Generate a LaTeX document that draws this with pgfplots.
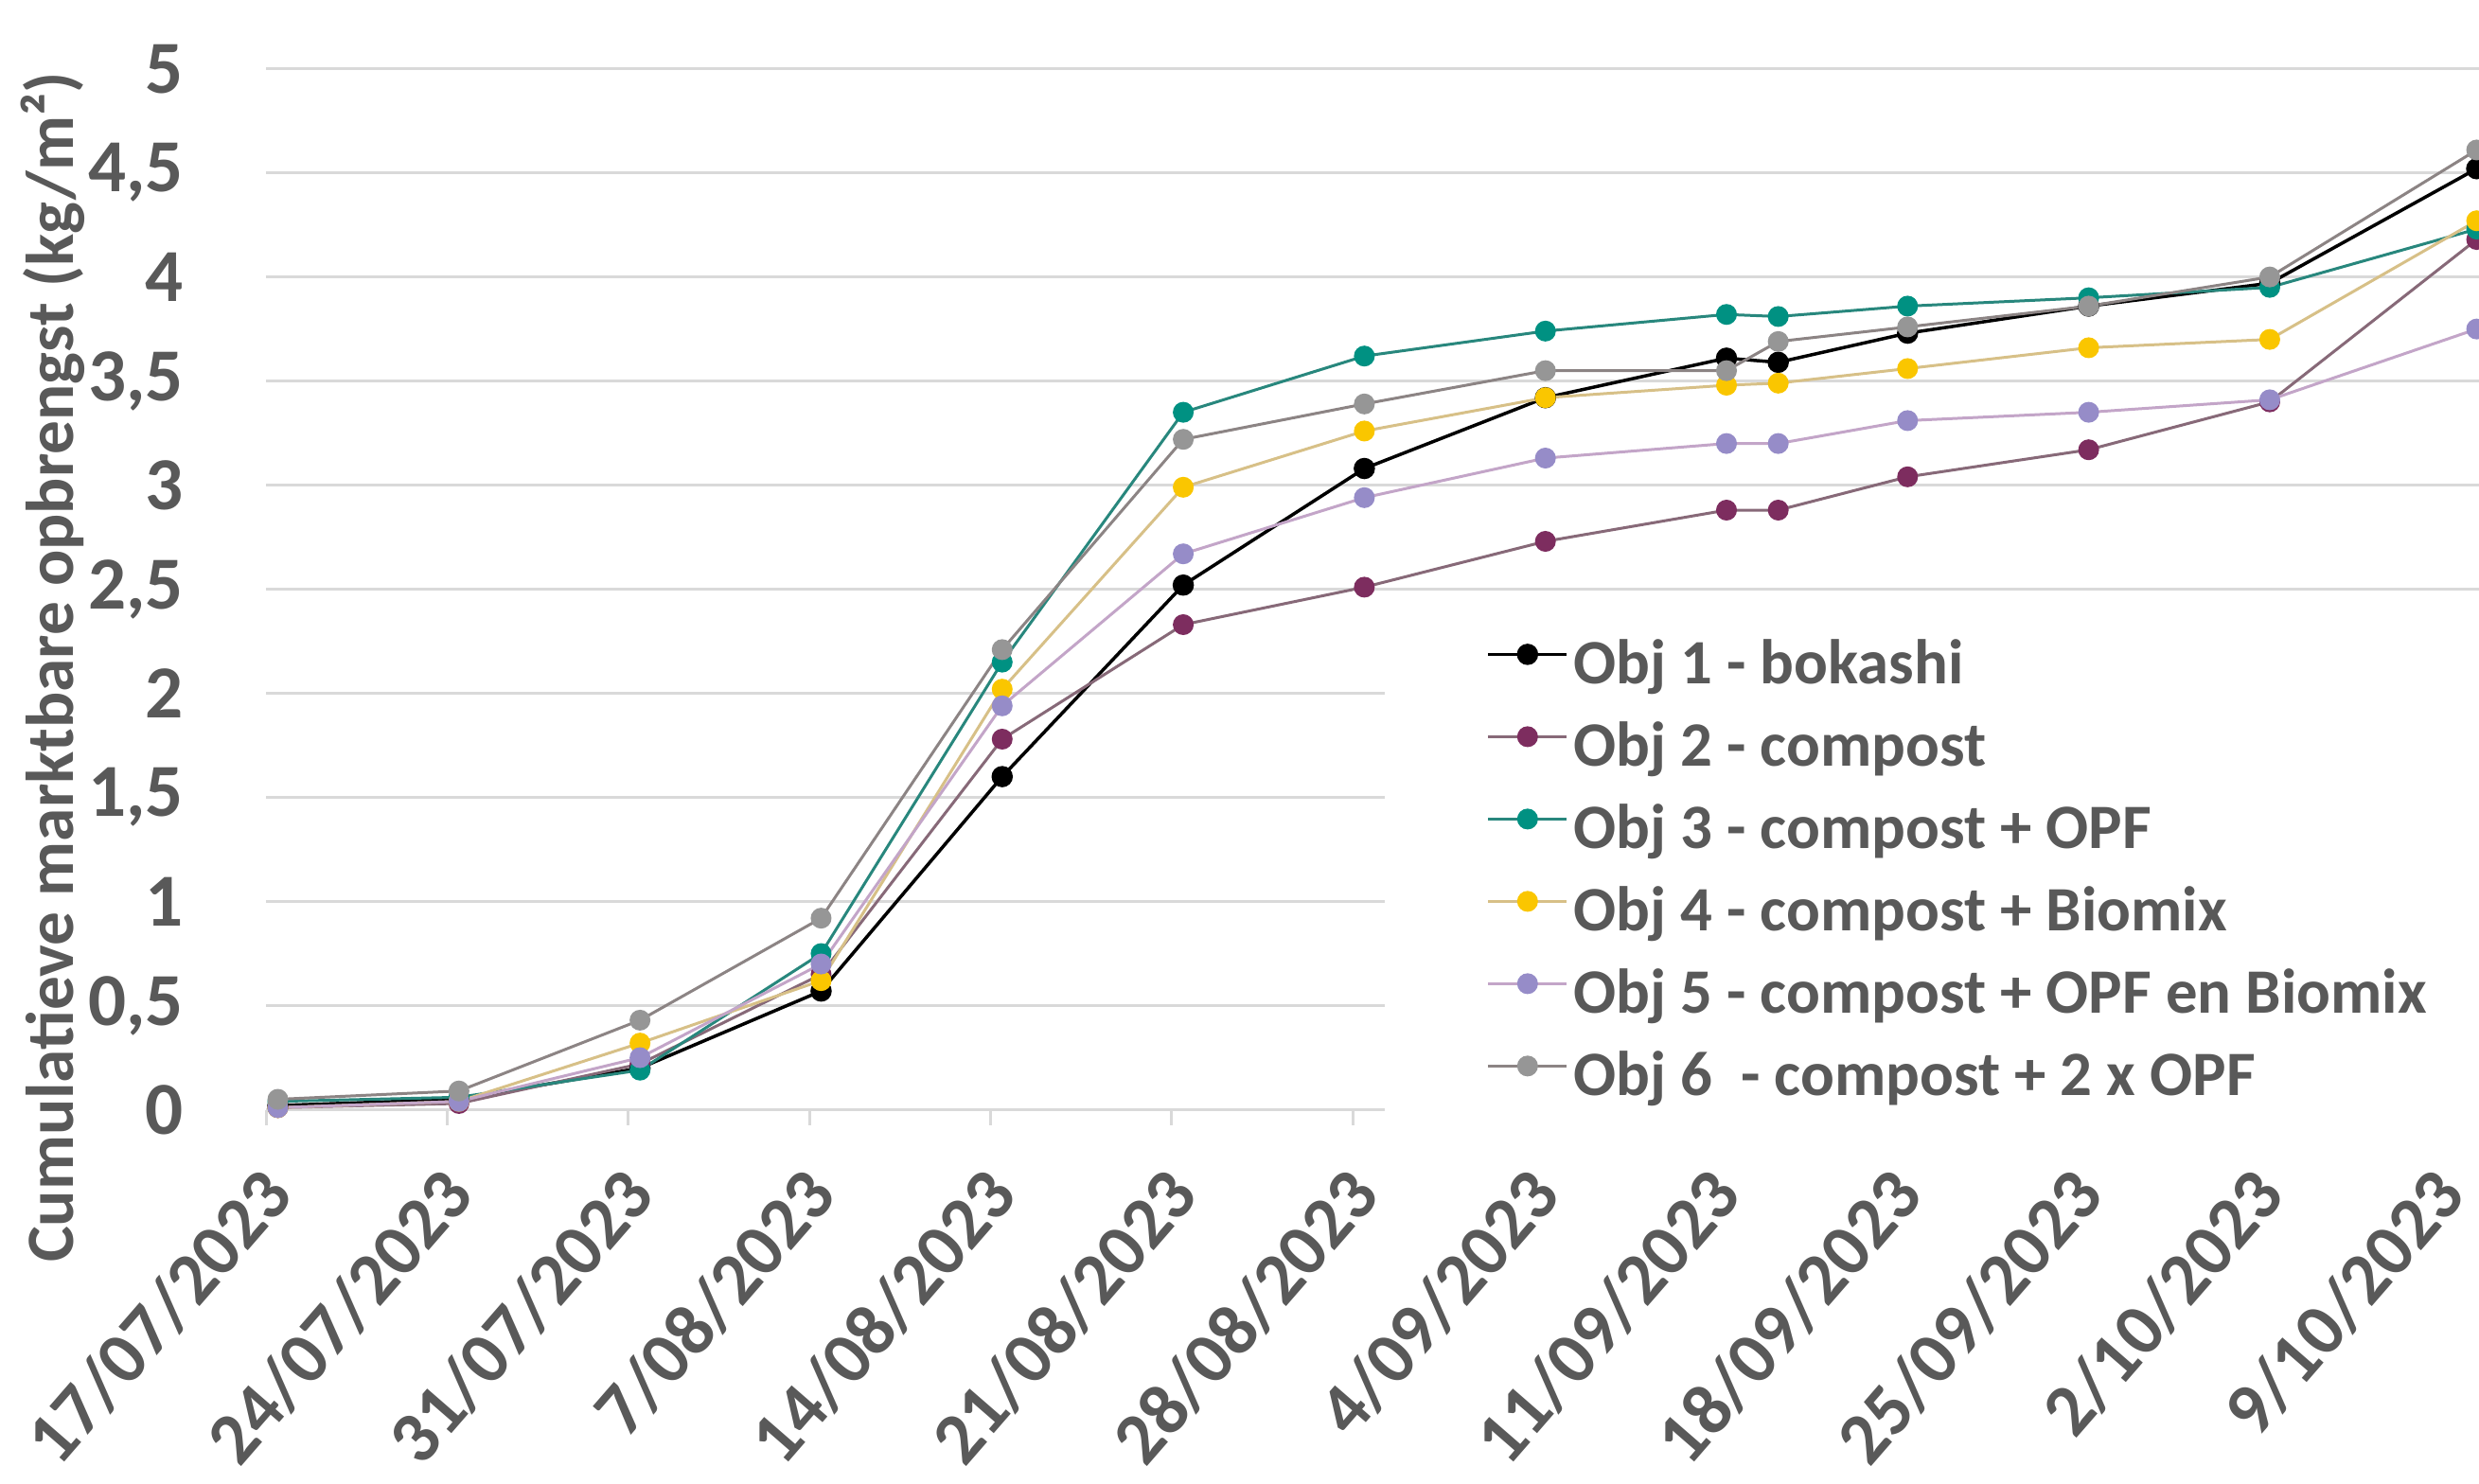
\documentclass[border=0pt]{standalone}
\usepackage{fontspec}
\setmainfont{Carlito}
\usepackage{pgfplots}
\pgfplotsset{compat=1.18}
\usepackage{pgfplotstable}

\definecolor{txt}{RGB}{89,89,89}
\definecolor{gridc}{RGB}{217,217,217}
\definecolor{cBm}{RGB}{125,45,95}
\definecolor{cBl}{RGB}{135,105,120}
\definecolor{cCm}{RGB}{0,145,130}
\definecolor{cCl}{RGB}{40,135,125}
\definecolor{cDm}{RGB}{250,198,0}
\definecolor{cDl}{RGB}{215,192,135}
\definecolor{cEm}{RGB}{150,140,200}
\definecolor{cEl}{RGB}{195,165,200}
\definecolor{cFm}{RGB}{150,150,150}
\definecolor{cFl}{RGB}{140,132,132}

\pgfplotstableread{
day o1 o2 o3 o4 o5 o6
0 0.02 0.01 0.04 0.01 0.01 0.05
7 0.05 0.03 0.06 0.04 0.04 0.09
14 0.20 0.22 0.19 0.32 0.25 0.43
21 0.57 0.65 0.75 0.62 0.70 0.92
28 1.60 1.78 2.15 2.02 1.94 2.21
35 2.52 2.33 3.35 2.99 2.67 3.22
42 3.08 2.51 3.62 3.26 2.94 3.39
49 3.42 2.73 3.74 3.42 3.13 3.55
56 3.61 2.88 3.82 3.48 3.20 3.55
58 3.59 2.88 3.81 3.49 3.20 3.69
63 3.73 3.04 3.86 3.56 3.31 3.76
70 3.86 3.17 3.90 3.66 3.35 3.86
77 3.97 3.40 3.95 3.70 3.41 4.00
85 4.52 4.18 4.23 4.27 3.75 4.61
}\data

\begin{document}
\begin{tikzpicture}
\begin{axis}[
  scale only axis, width=233.8mm, height=110mm,
  xmin=-0.45, xmax=85.09, ymin=0, ymax=5,
  axis x line*=bottom, axis y line*=left,
  x axis line style={draw=gridc, line width=0.3mm},
  y axis line style={draw=none},
  ytick={0,0.5,1,1.5,2,2.5,3,3.5,4,4.5,5},
  yticklabels={0,{0,5},1,{1,5},2,{2,5},3,{3,5},4,{4,5},5},
  ymajorgrids, grid style={draw=gridc, line width=0.3mm},
  y tick style={draw=none},
  major tick length=1.6mm, tick align=outside,
  x tick style={draw=gridc, line width=0.3mm},
  xtick={-0.45,6.55,13.55,20.55,27.55,34.55,41.55,48.55,55.55,62.55,69.55,76.55,83.55},
  xticklabels={17/07/2023,24/07/2023,31/07/2023,7/08/2023,14/08/2023,21/08/2023,28/08/2023,4/09/2023,11/09/2023,18/09/2023,25/09/2023,2/10/2023,9/10/2023},
  xticklabel style={font=\fontsize{22}{22}\selectfont\bfseries, text=txt, inner sep=0pt, xshift=1.2mm, yshift=-5.9mm, rotate=49, anchor=east},
  yticklabel style={font=\fontsize{22.5}{22.5}\selectfont\bfseries, text=txt, inner sep=0pt, xshift=-7.1mm, anchor=east},
  ylabel={Cumulatieve marktbare opbrengst (kg/m²)},
  every axis y label/.style={at={(rel axis cs:0,0.425)}, xshift=-22.5mm, rotate=90, anchor=center, font=\fontsize{20.3}{20.3}\selectfont\bfseries, text=txt},
  legend style={at={(axis cs:42.75,2.32)}, anchor=north west, draw=none, fill=white,
    font=\fontsize{19}{19}\selectfont\bfseries, text=txt,
    inner xsep=10.8mm, inner ysep=0.6mm, row sep=0pt, column sep=0.5mm,
    nodes={inner sep=0pt, text height=5.4mm, text depth=3.3mm, anchor=west}},
  legend cell align=left,
  legend image code/.code={\draw[mark repeat=2,mark phase=2] plot coordinates {(0mm,2.1mm) (4.15mm,2.1mm) (8.3mm,2.1mm)};},
]
\addplot[color=black, line width=0.35mm, mark=*, mark size=2.7pt, mark options={solid, draw=black, fill=black}] table[x=day,y=o1]{\data};
\addlegendentry{Obj 1 - bokashi}
\addplot[color=cBl, line width=0.3mm, mark=*, mark size=2.7pt, mark options={solid, draw=cBm, fill=cBm}] table[x=day,y=o2]{\data};
\addlegendentry{Obj 2 - compost}
\addplot[color=cCl, line width=0.3mm, mark=*, mark size=2.7pt, mark options={solid, draw=cCm, fill=cCm}] table[x=day,y=o3]{\data};
\addlegendentry{Obj 3 - compost + OPF}
\addplot[color=cDl, line width=0.3mm, mark=*, mark size=2.7pt, mark options={solid, draw=cDm, fill=cDm}] table[x=day,y=o4]{\data};
\addlegendentry{Obj 4 - compost + Biomix}
\addplot[color=cEl, line width=0.3mm, mark=*, mark size=2.7pt, mark options={solid, draw=cEm, fill=cEm}] table[x=day,y=o5]{\data};
\addlegendentry{Obj 5 - compost + OPF en Biomix}
\addplot[color=cFl, line width=0.3mm, mark=*, mark size=2.7pt, mark options={solid, draw=cFm, fill=cFm}] table[x=day,y=o6]{\data};
\addlegendentry{Obj 6\ \ - compost + 2 x OPF}
\coordinate (SW) at (rel axis cs:0,0);
\coordinate (NE) at (rel axis cs:1,1);
\end{axis}
\pgfresetboundingbox
\path ([xshift=-28.13mm, yshift=-39.48mm]SW) rectangle ([yshift=7.27mm]NE);
\end{tikzpicture}
\end{document}
